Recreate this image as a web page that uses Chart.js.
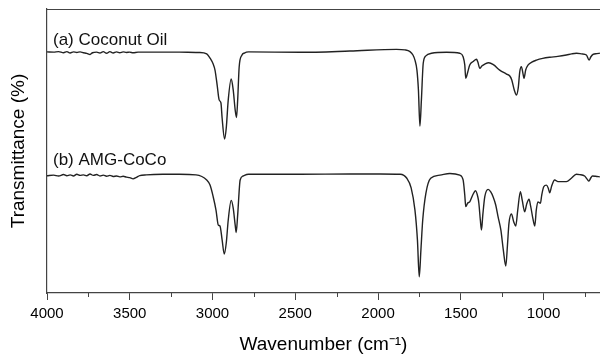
<!DOCTYPE html>
<html>
<head>
<meta charset="utf-8">
<script src="https://cdn.jsdelivr.net/npm/chart.js@4"></script>
<style>
  body { margin: 0; background: #fff; overflow: hidden; }
  #wrap { position: relative; width: 600px; height: 358px; }
</style>
</head>
<body>
<div id="wrap"><canvas id="ftirChart"></canvas></div>
<script>
// (a) Coconut Oil - wavenumber (cm-1) and transmittance (arb. %)
const waveA = [4000, 3960, 3930, 3900, 3880, 3860, 3840, 3820, 3800, 3780, 3760, 3740, 3725, 3700, 3680, 3660, 3640, 3620, 3600, 3580, 3560, 3540, 3520, 3500, 3480, 3450, 3400, 3300, 3200, 3100,
  3076, 3035, 3015, 2996, 2985, 2972, 2960, 2949, 2942, 2927, 2917, 2905, 2887, 2875, 2863, 2855, 2848, 2839, 2822, 2808, 2782,
  2470, 2170, 1888, 1838, 1807, 1789, 1777, 1765, 1756, 1747, 1738, 1727, 1711, 1677, 1586, 1506, 1486, 1476, 1470, 1458, 1446, 1425, 1405, 1397, 1385, 1373, 1355, 1331, 1301, 1265, 1224, 1204, 1192, 1177, 1164, 1153, 1144, 1134, 1126, 1118, 1108, 1093, 1071, 1043, 1005, 962, 914, 862, 830, 801, 769, 741, 725, 715, 701, 678, 660];
const transA = [84.9, 84.8, 85.0, 84.6, 85.0, 84.5, 84.9, 84.7, 84.9, 84.6, 84.4, 84.0, 84.6, 84.8, 84.5, 85.0, 84.4, 85.0, 84.5, 84.9, 84.6, 84.9, 84.7, 84.8, 84.6, 84.8, 84.8, 84.8, 84.8, 84.7,
  84.7, 84.2, 82.7, 80.6, 78.5, 73.2, 68.0, 66.9, 61.6, 54.2, 58.1, 68.0, 75.4, 71.5, 64.4, 61.8, 68.0, 79.6, 83.8, 84.5, 84.9,
  84.75, 85.2, 85.8, 85.6, 85.0, 83.8, 82.0, 78.5, 71.5, 58.8, 68.0, 80.9, 83.5, 84.4, 84.75, 84.4, 83.2, 80.3, 75.6, 77.8, 80.3, 81.5, 82.3, 81.3, 79.1, 79.9, 80.6, 81.1, 80.3, 78.5, 77.1, 76.4, 75.0, 71.5, 69.7, 72.2, 77.8, 79.7, 77.8, 75.6, 78.5, 80.3, 81.3, 82.0, 82.6, 83.0, 83.3, 83.8, 84.2, 84.4, 84.2, 83.8, 82.0, 83.1, 84.0, 84.3, 84.4];

// (b) AMG-CoCo
const waveB = [4000, 3960, 3930, 3900, 3880, 3860, 3840, 3820, 3800, 3780, 3760, 3740, 3720, 3700, 3680, 3660, 3640, 3620, 3600, 3580, 3560, 3540, 3520, 3500, 3480, 3460, 3440, 3400, 3300, 3200, 3100,
  3035, 3015, 2996, 2979, 2965, 2955, 2942, 2929, 2917, 2905, 2887, 2875, 2863, 2857, 2848, 2833, 2815, 2782,
  2470, 2168, 1987, 1866, 1826, 1800, 1777, 1762, 1751, 1741, 1730, 1711, 1682, 1626, 1566, 1506, 1486, 1476, 1470, 1458, 1446, 1428, 1411, 1397, 1391, 1382, 1375, 1367, 1355, 1335, 1319, 1305, 1289, 1275, 1258, 1243, 1228, 1218, 1209, 1194, 1180, 1168, 1156, 1140, 1129, 1114, 1102, 1088, 1078, 1065, 1053, 1044, 1034, 1019, 1011, 999, 983, 972, 963, 951, 933, 913, 862, 832, 802, 782, 752, 737, 726, 715, 705, 685, 660];
const transB = [41.3, 41.5, 41.2, 41.7, 41.3, 41.6, 41.2, 41.8, 41.4, 41.6, 41.3, 41.9, 41.4, 41.7, 41.2, 41.5, 41.1, 41.4, 41.0, 41.2, 40.9, 41.1, 40.8, 40.6, 40.2, 40.7, 41.3, 41.6, 41.8, 41.8, 41.6,
  39.8, 38.0, 33.9, 29.2, 23.9, 23.6, 18.7, 13.7, 17.6, 25.7, 32.6, 29.9, 23.9, 21.3, 27.5, 39.8, 41.2, 41.8,
  41.8, 41.9, 41.9, 41.8, 40.4, 37.0, 29.2, 18.7, 5.7, 15.1, 25.7, 35.1, 40.4, 41.5, 42.1, 41.5, 39.8, 34.5, 30.4, 31.7, 32.1, 34.5, 36.0, 33.8, 31.7, 25.7, 22.2, 27.5, 33.9, 36.5, 35.6, 33.9, 31.0, 26.9, 22.2, 15.1, 9.5, 16.9, 24.5, 27.8, 25.0, 23.6, 29.2, 35.7, 32.7, 28.6, 31.3, 33.0, 30.6, 26.4, 23.6, 29.2, 32.1, 31.6, 34.5, 37.4, 38.0, 37.0, 35.3, 37.7, 39.8, 39.2, 39.2, 40.4, 41.8, 41.7, 41.2, 40.1, 39.4, 40.5, 41.2, 41.1, 40.9];

const majorTicks = [4000, 3500, 3000, 2500, 2000, 1500, 1000];
const minorTicks = [3750, 3250, 2750, 2250, 1750, 1250, 750];
const seriesLabels = ['(a) Coconut Oil', '(b) AMG-CoCo'];

const FONT = "'Liberation Sans', Arial, sans-serif";
const AXIS_COLOR = '#444';
const LINE_COLOR = '#222';

const toPoints = (xs, ys) => xs.map((x, i) => ({ x: x, y: ys[i] }));

// top frame line, minor ticks and the trace labels
const framePlugin = {
    id: 'frame',
    afterDraw(chart) {
        const { ctx, chartArea } = chart;
        const xs = chart.scales.x;
        ctx.save();
        ctx.strokeStyle = AXIS_COLOR;
        ctx.lineWidth = 1.2;
        ctx.beginPath();
        ctx.moveTo(chartArea.left, Math.round(chartArea.top) + 0.5);
        ctx.lineTo(chartArea.right, Math.round(chartArea.top) + 0.5);
        ctx.stroke();

        ctx.lineWidth = 1;
        minorTicks.forEach(v => {
            const px = Math.round(xs.getPixelForValue(v)) + 0.5;
            ctx.beginPath();
            ctx.moveTo(px, chartArea.bottom);
            ctx.lineTo(px, chartArea.bottom + 4);
            ctx.stroke();
        });

        ctx.fillStyle = '#111';
        ctx.font = '17px ' + FONT;
        ctx.textBaseline = 'alphabetic';
        ctx.fillText(seriesLabels[0], chartArea.left + 6, 45);
        ctx.fillText(seriesLabels[1], chartArea.left + 6, 165);
        ctx.restore();
    }
};

new Chart(document.getElementById('ftirChart').getContext('2d'), {
    type: 'line',
    data: {
        datasets: [
            {
                label: seriesLabels[0],
                data: toPoints(waveA, transA),
                borderColor: LINE_COLOR,
                borderWidth: 1.4,
                pointRadius: 0,
                cubicInterpolationMode: 'monotone',
                fill: false
            },
            {
                label: seriesLabels[1],
                data: toPoints(waveB, transB),
                borderColor: LINE_COLOR,
                borderWidth: 1.4,
                pointRadius: 0,
                cubicInterpolationMode: 'monotone',
                fill: false
            }
        ]
    },
    options: {
        responsive: true,
        maintainAspectRatio: false,
        animation: false,
        parsing: false,
        layout: { padding: { top: 9, right: 0, left: 0, bottom: 0 } },
        plugins: {
            legend: { display: false },
            tooltip: { enabled: false }
        },
        scales: {
            x: {
                type: 'linear',
                reverse: true,
                min: 659,
                max: 4000,
                afterBuildTicks: s => { s.ticks = majorTicks.map(v => ({ value: v })); },
                afterFit: s => { s.height = 65; },
                grid: {
                    display: true,
                    drawOnChartArea: false,
                    drawTicks: true,
                    tickLength: 7,
                    tickColor: AXIS_COLOR,
                    tickWidth: 1
                },
                border: { display: true, color: AXIS_COLOR, width: 1.2 },
                ticks: {
                    autoSkip: false,
                    maxRotation: 0,
                    padding: 5,
                    color: '#000',
                    font: { family: FONT, size: 15 },
                    callback: v => String(v)
                },
                title: {
                    display: true,
                    text: 'Wavenumber (cm\u207B\u00B9)',
                    color: '#000',
                    font: { family: FONT, size: 19 },
                    padding: { top: 0, bottom: 2 }
                }
            },
            y: {
                min: 0,
                max: 100,
                afterFit: s => { s.width = 47; },
                grid: { display: false },
                border: { display: true, color: AXIS_COLOR, width: 1.2 },
                ticks: { display: false },
                title: {
                    display: true,
                    text: 'Transmittance (%)',
                    color: '#000',
                    font: { family: FONT, size: 19 },
                    padding: { top: 7, bottom: 0 }
                }
            }
        }
    },
    plugins: [framePlugin]
});
</script>
</body>
</html>
